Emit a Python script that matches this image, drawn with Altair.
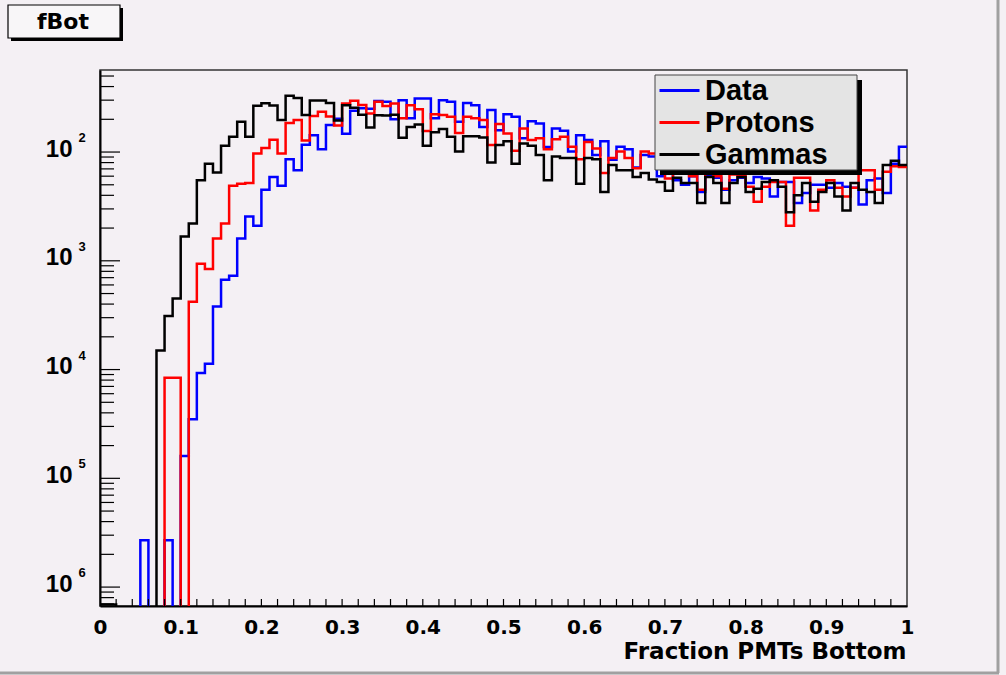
import numpy as np
import pandas as pd
import altair as alt

# ---------------- data ----------------
series_names = ["Data", "Protons", "Gammas"]
series_colors = ["#0000ff", "#ff0000", "#000000"]

# 100 bins of width 0.01 over [0, 1]
n_bins = 100
bin_width = 0.01

data_vals = [
    0, 0, 0, 0, 0, 2.7e-6, 0, 0, 2.7e-6, 0,
    1.6e-5, 3.5e-5, 9.3e-5, 1.13e-4, 3.8e-4, 6.7e-4, 7.3e-4, 1.6e-3, 2.55e-3, 2.1e-3,
    4.5e-3, 5.9e-3, 4.9e-3, 8.6e-3, 6.8e-3, 0.0117, 0.0143, 0.0106, 0.0177, 0.0202,
    0.0147, 0.0240, 0.0253, 0.0250, 0.0294, 0.0290, 0.0200, 0.0300, 0.0204, 0.0311,
    0.0311, 0.0204, 0.0300, 0.0290, 0.0190, 0.0283, 0.0270, 0.0170, 0.0243, 0.0159,
    0.0223, 0.0211, 0.0134, 0.0192, 0.0183, 0.0111, 0.0165, 0.0157, 0.0101, 0.0143,
    0.0129, 0.0094, 0.0126, 0.0085, 0.0112, 0.0106, 0.0072, 0.0094, 0.0091, 0.0060,
    0.0066, 0.0055, 0.0050, 0.0060, 0.0043, 0.0060, 0.0058, 0.0045, 0.0055, 0.0058,
    0.0052, 0.0059, 0.0057, 0.0039, 0.0053, 0.0053, 0.0034, 0.0042, 0.0050, 0.0050,
    0.0047, 0.0052, 0.0048, 0.0047, 0.0033, 0.0055, 0.0057, 0.0042, 0.0078, 0.0112,
]

proton_vals = [
    0, 0, 0, 0, 0, 0, 0, 0, 8.4e-5, 8.4e-5,
    0, 4.2e-4, 9.4e-4, 8.4e-4, 1.6e-3, 2.2e-3, 4.9e-3, 5.1e-3, 5.2e-3, 9.7e-3,
    0.0109, 0.0130, 0.0097, 0.0185, 0.0197, 0.0128, 0.0215, 0.0235, 0.0212, 0.0175,
    0.0280, 0.0297, 0.0271, 0.0226, 0.0290, 0.0265, 0.0280, 0.0204, 0.0270, 0.0247,
    0.0156, 0.0223, 0.0219, 0.0211, 0.0150, 0.0211, 0.0204, 0.0197, 0.0116, 0.0181,
    0.0148, 0.0103, 0.0165, 0.0129, 0.0134, 0.0106, 0.0131, 0.0138, 0.0112, 0.0086,
    0.0124, 0.0108, 0.0064, 0.0088, 0.0101, 0.0088, 0.0071, 0.0101, 0.0097, 0.0071,
    0.0057, 0.0064, 0.0066, 0.0060, 0.0045, 0.0065, 0.0060, 0.0046, 0.0062, 0.0060,
    0.0048, 0.0035, 0.0048, 0.0053, 0.0053, 0.0021, 0.0058, 0.0058, 0.0029, 0.0045,
    0.0055, 0.0047, 0.0039, 0.0047, 0.0068, 0.0068, 0.0045, 0.0066, 0.0074, 0.0073,
]

gamma_vals = [
    6.9e-7, 6.9e-7, 0, 0, 0, 0, 0, 1.5e-4, 3.1e-4, 4.5e-4,
    1.67e-3, 2.2e-3, 5.5e-3, 7.8e-3, 6.5e-3, 0.0114, 0.0138, 0.0190, 0.0138, 0.0266,
    0.0281, 0.0268, 0.0197, 0.0330, 0.0314, 0.0219, 0.0298, 0.0298, 0.0283, 0.0195,
    0.0270, 0.0255, 0.0220, 0.0168, 0.0218, 0.0217, 0.0220, 0.0135, 0.0170, 0.0179,
    0.0114, 0.0152, 0.0163, 0.0138, 0.0101, 0.0140, 0.0140, 0.0136, 0.0080, 0.0116,
    0.0126, 0.0078, 0.0120, 0.0114, 0.0094, 0.0055, 0.0091, 0.0088, 0.0088, 0.0051,
    0.0088, 0.0086, 0.0043, 0.0076, 0.0068, 0.0068, 0.0059, 0.0064, 0.0056, 0.0053,
    0.0044, 0.0058, 0.0052, 0.0052, 0.0034, 0.0059, 0.0052, 0.0034, 0.0052, 0.0059,
    0.0043, 0.0046, 0.0053, 0.0055, 0.0048, 0.0028, 0.0040, 0.0052, 0.0035, 0.0043,
    0.0052, 0.0039, 0.0029, 0.0052, 0.0045, 0.0043, 0.0034, 0.0076, 0.0083, 0.0076,
]

x_tick_labels_values = [0, 0.1, 0.2, 0.3, 0.4, 0.5, 0.6, 0.7, 0.8, 0.9, 1.0]
x_minor_values = [round(0.02 * k, 2) for k in range(1, 50)]
y_decades = [1e-2, 1e-3, 1e-4, 1e-5, 1e-6]
y_exponent_labels = ["2", "3", "4", "5", "6"]

y_min, y_max = 6.7e-7, 0.0568
floor_value = 1e-9  # empty bins: drawn below the axis and clipped

# ---------------- build tables ----------------
rows = []
for name, vals in zip(series_names, [data_vals, proton_vals, gamma_vals]):
    for i, v in enumerate(vals):
        rows.append({"series": name, "x": round(i * bin_width, 2), "count": v,
                     "plot": v if v > 0 else floor_value})
    rows.append({"series": name, "x": 1.0, "count": vals[-1],
                 "plot": vals[-1] if vals[-1] > 0 else floor_value})
df = pd.DataFrame(rows)

minor_y = []
for n in range(-7, -1):
    for k in range(2, 10):
        v = k * 10.0 ** n
        if y_min <= v <= y_max:
            minor_y.append(v)
df_minor_y = pd.DataFrame({"v": minor_y})
df_major_y = pd.DataFrame({"v": y_decades, "exp": y_exponent_labels})
df_minor_x = pd.DataFrame({"x": x_minor_values})
one = pd.DataFrame({"a": [0]})

W, H = 807, 536

xscale = alt.Scale(domain=[0, 1], nice=False)
yscale = alt.Scale(type="log", domain=[y_min, y_max], nice=False)
cscale = alt.Scale(domain=series_names, range=series_colors)

xaxis = alt.Axis(values=x_tick_labels_values, format="~g", ticks=False, grid=False,
                 domainColor="black", domainWidth=2, labelFont="DejaVu Sans",
                 labelFontSize=20, labelFontWeight="bold", labelColor="black",
                 labelPadding=11, labelFlush=False, labelOverlap=False,
                 title="Fraction PMTs Bottom", titleFont="DejaVu Sans",
                 titleFontSize=23, titleFontWeight="bold", titleColor="black",
                 titleAnchor="end", titleAlign="right", titleX=806, titleY=52,
                 titleBaseline="alphabetic")
yaxis = alt.Axis(values=y_decades, labelExpr="'10'", ticks=False, grid=False,
                 domainColor="black", domainWidth=2, labelFont="Liberation Sans",
                 labelFontSize=24, labelFontWeight="bold", labelColor="black",
                 labelPadding=28, labelOffset=-3, labelOverlap=False, labelFlush=False,
                 title=None)

# line-sample symbol: a 40 px horizontal stroke starting at the column's left edge
legend = alt.Legend(title=None, orient="none", legendX=555, legendY=6,
                    symbolType="M-1,0H3", symbolSize=400, symbolStrokeWidth=3,
                    labelFont="Liberation Sans", labelFontSize=29,
                    labelFontWeight="bold", labelColor="black", labelOffset=21,
                    rowPadding=2, padding=0)

layers = []
for name in series_names:
    layers.append(
        alt.Chart(df).transform_filter(alt.datum.series == name)
        .mark_line(interpolate="step-after", clip=True, strokeWidth=2.5)
        .encode(
            x=alt.X("x:Q", scale=xscale, axis=xaxis),
            y=alt.Y("plot:Q", scale=yscale, axis=yaxis),
            color=alt.Color("series:N", scale=cscale, legend=legend),
        )
    )

# legend box (ROOT TLegend style) with shadow
legend_shadow = alt.Chart(one).mark_rect(color="black").encode(
    x=alt.value(560), x2=alt.value(762), y=alt.value(10), y2=alt.value(105))
legend_box = alt.Chart(one).mark_rect(fill="#e4e4e4", stroke="#444444", strokeWidth=1).encode(
    x=alt.value(555), x2=alt.value(757), y=alt.value(5), y2=alt.value(100))

# inner ticks
y_major_ticks = alt.Chart(df_major_y).mark_rule(color="black", strokeWidth=1.2).encode(
    y=alt.Y("v:Q", scale=yscale, axis=yaxis), x=alt.value(0), x2=alt.value(20))
y_minor_ticks = alt.Chart(df_minor_y).mark_rule(color="black", strokeWidth=1.2).encode(
    y=alt.Y("v:Q", scale=yscale, axis=yaxis), x=alt.value(0), x2=alt.value(14))
x_ticks = alt.Chart(df_minor_x).mark_rule(color="black", strokeWidth=1.2).encode(
    x=alt.X("x:Q", scale=xscale, axis=xaxis), y=alt.value(H), y2=alt.value(H - 7))

# exponents of the y labels
y_exp = alt.Chart(df_major_y).mark_text(font="Liberation Sans", fontSize=13,
                                        fontWeight="bold", color="black",
                                        align="center", baseline="middle", dy=-14).encode(
    y=alt.Y("v:Q", scale=yscale, axis=yaxis), x=alt.value(-18), text="exp:N")

# title box "fBot"
title_shadow = alt.Chart(one).mark_rect(color="black").encode(
    x=alt.value(-89), x2=alt.value(23), y=alt.value(-62), y2=alt.value(-29))
title_box = alt.Chart(one).mark_rect(fill="#f8f6f8", stroke="black", strokeWidth=1.2).encode(
    x=alt.value(-92), x2=alt.value(20), y=alt.value(-65), y2=alt.value(-32))
title_text = alt.Chart(one).mark_text(text="fBot", font="DejaVu Sans", fontSize=22,
                                      fontWeight="bold", color="black",
                                      align="center", baseline="middle").encode(
    x=alt.value(-37), y=alt.value(-48))

# canvas bevel edges
edge_right = alt.Chart(one).mark_rule(color="#a0a0a0", strokeWidth=3).encode(
    x=alt.value(898), y=alt.value(-70), y2=alt.value(603))
edge_bottom = alt.Chart(one).mark_rule(color="#a0a0a0", strokeWidth=3).encode(
    y=alt.value(603), x=alt.value(-100), x2=alt.value(899))

chart = alt.layer(
    *layers, legend_shadow, legend_box,
    y_major_ticks, y_minor_ticks, x_ticks, y_exp,
    title_shadow, title_box, title_text, edge_right, edge_bottom,
).properties(
    width=W, height=H,
    padding={"left": 100, "top": 70, "right": 99, "bottom": 69},
    autosize=alt.AutoSizeParams(type="none"),
    background="#f4f0f4",
).configure_view(
    stroke="#333333", strokeWidth=1.5
)

chart.save("out.html", embed_options={"renderer": "svg", "actions": False})
